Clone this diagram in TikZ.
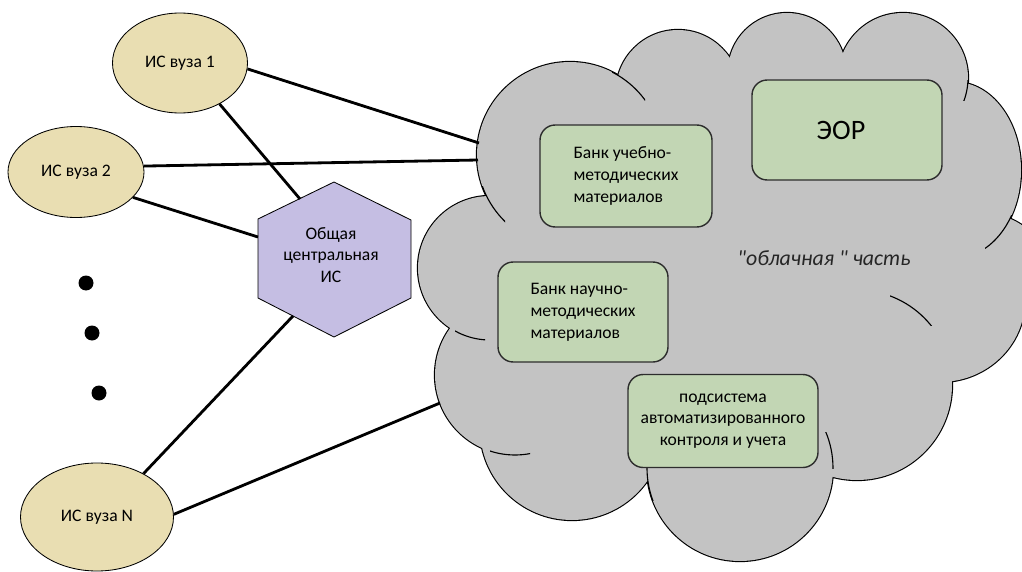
\documentclass[tikz,border=0pt]{standalone}
\usepackage{fontspec}
\setmainfont{Carlito}[Ligatures=TeXOff]
\usetikzlibrary{shapes.geometric}
\definecolor{beige}{RGB}{233,222,178}
\definecolor{lav}{RGB}{197,190,227}
\definecolor{cloudgray}{RGB}{195,195,195}
\definecolor{boxgreen}{RGB}{194,214,180}
\definecolor{boxline}{RGB}{45,45,45}
\newcommand\px{0.025cm}
\def\bumps{570/155/93/93, 678/92/62/62, 787/72/59/59, 903/78/65/65, 955/170/66/88, 990/270/55/55, 940/300/85/82, 857/385/95/95, 740/468/93/93, 572/428/92/92, 515/375/80/80, 490/268/72/72}
\begin{document}
\begin{tikzpicture}[x=0.025cm,y=-0.025cm,
  isnode/.style={ellipse,draw=black,line width=0.6pt,fill=beige,inner sep=0pt,font=\fontsize{12.5}{15}\selectfont},
  greenbox/.style={rectangle,rounded corners=0.38cm,draw=boxline,line width=1pt,fill=boxgreen,inner sep=0pt,font=\fontsize{12.5}{15.5}\selectfont},
  conn/.style={line width=2pt,black},
  dotnode/.style={circle,fill=black,inner sep=0pt,minimum size=15*\px},
  bump/.style={line width=1.6pt,black},
  hook/.style={line width=0.8pt,black}]
\useasboundingbox (0,0) rectangle (1022,572);

% cloud
\foreach \cx/\cy/\rx/\ry in \bumps {\draw[bump] (\cx,\cy) circle[x radius=\rx, y radius=\ry];}
\fill[cloudgray] (570,155) -- (678,92) -- (787,72) -- (903,78) -- (955,170) -- (990,270) -- (940,300) -- (857,385) -- (740,468) -- (572,428) -- (515,375) -- (490,268) -- cycle;
\foreach \cx/\cy/\rx/\ry in \bumps {\fill[cloudgray] (\cx,\cy) circle[x radius=\rx, y radius=\ry];}
% inner hooks
\begin{scope}\clip (612,70) rectangle (645,100); \draw[hook] (570,155) circle[radius=93];\end{scope}
\begin{scope}\clip (475,186) rectangle (505,222); \draw[hook] (570,155) circle[radius=93];\end{scope}
\begin{scope}\clip (955,80) rectangle (975,100); \draw[hook] (903,78) circle[radius=65];\end{scope}
\begin{scope}\clip (985,215) rectangle (1022,248); \draw[hook] (955,170) circle[x radius=66,y radius=88];\end{scope}
\begin{scope}\clip (890,285) rectangle (935,325); \draw[hook] (857,385) circle[radius=95];\end{scope}
\begin{scope}\clip (825,432) rectangle (840,468); \draw[hook] (740,468) circle[radius=93];\end{scope}
\begin{scope}\clip (640,455) rectangle (665,500); \draw[hook] (740,468) circle[radius=93];\end{scope}
\begin{scope}\clip (490,440) rectangle (530,460); \draw[hook] (515,375) circle[radius=80];\end{scope}
\begin{scope}\clip (455,322) rectangle (485,345); \draw[hook] (490,268) circle[radius=72];\end{scope}

\coordinate (c1) at (479,143);
\coordinate (c2) at (478,160);
\coordinate (c3) at (440,403);

% boxes in the cloud
\node[greenbox,minimum width=190*\px,minimum height=100*\px] (eor) at (847,130) {\fontsize{20}{24}\selectfont ЭОР\hspace*{0.3cm}};
\node[greenbox,minimum width=172*\px,minimum height=102*\px,align=left] (bank1) at (626,176) {Банк учебно-\\методических\\материалов};
\node[greenbox,minimum width=170*\px,minimum height=100*\px,align=left] (bank2) at (583,312) {Банк научно-\\методических\\материалов};
\node[greenbox,minimum width=190*\px,minimum height=93*\px,align=center] (sub) at (723,421) {подсистема\\автоматизированного\\контроля и учета};
\node[font=\fontsize{15.5}{18}\selectfont\itshape,text=black!85] (cl) at (824,258) {"облачная " часть};

% university IS
\node[isnode,minimum width=135*\px,minimum height=100*\px] (i1) at (180,63) {ИС вуза 1};
\node[isnode,minimum width=136*\px,minimum height=91*\px] (i2) at (76,172) {ИС вуза 2};
\node[isnode,minimum width=153*\px,minimum height=108*\px] (iN) at (97,517) {ИС вуза N};

% dots
\node[dotnode] (d1) at (86,283) {};
\node[dotnode] (d2) at (92,333) {};
\node[dotnode] (d3) at (99,393) {};

% central hexagon
\coordinate (hT) at (334,182);
\coordinate (hUR) at (411,220);
\coordinate (hLR) at (411,298);
\coordinate (hB) at (334,337);
\coordinate (hLL) at (258,298);
\coordinate (hUL) at (258,219);
\filldraw[fill=lav,draw=black,line width=0.6pt] (hT) -- (hUR) -- (hLR) -- (hB) -- (hLL) -- (hUL) -- cycle;
\node[align=center,font=\fontsize{12.5}{15.5}\selectfont] (hex) at (331,255) {Общая\\центральная\\ИС};
\coordinate (h1) at (300,199);
\coordinate (h2) at (258,237);
\coordinate (h3) at (293,316);

% connectors
\draw[conn] (i1.-5) -- (c1);
\draw[conn] (i1.-46) -- (h1);
\draw[conn] (i2.5) -- (c2);
\draw[conn] (i2.-24) -- (h2);
\draw[conn] (h3) -- (iN.43);
\draw[conn] (iN.2) -- (c3);
\end{tikzpicture}
\end{document}
